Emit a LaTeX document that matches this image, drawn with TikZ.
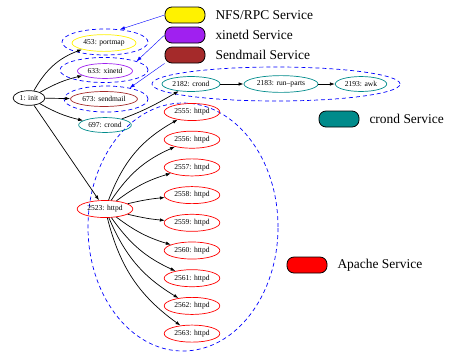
\documentclass[tikz,border=0pt]{standalone}
\usepackage{fontspec}
\setmainfont{Liberation Serif}
\usetikzlibrary{shapes.geometric,arrows.meta}
\definecolor{xpurple}{RGB}{160,32,240}
\definecolor{xbrown}{RGB}{165,42,42}
\definecolor{xcyan}{RGB}{0,139,139}
\newcommand{\procfont}{\fontsize{7.6}{8}\selectfont}
\newcommand{\keyfont}{\fontsize{13.5}{15}\selectfont}

\begin{document}
\begin{tikzpicture}[x=1bp,y=1bp]
\tikzstyle{proc}=[ellipse, draw, line width=0.7bp, inner xsep=2bp, inner ysep=2.6bp, font=\procfont]
\tikzstyle{httpd}=[proc, draw=red]
\tikzstyle{cluster}=[ellipse, draw=blue, line width=0.7bp, dash pattern=on 4bp off 3bp]
\tikzstyle{keybox}=[rounded corners=7bp, draw=black, thick, minimum width=40bp, minimum height=16bp]
\tikzstyle{keytext}=[anchor=west, font=\keyfont]
\tikzstyle{edge}=[line width=0.7bp, -{Latex[length=5bp,width=3.5bp]}]
\useasboundingbox (0,0) rectangle (453,-354);
% clusters
\node [cluster, minimum width=86bp, minimum height=26bp] (cportmap) at (105,-42) {};
\node [cluster, minimum width=88bp, minimum height=25bp] (cxinetd) at (104,-70) {};
\node [cluster, minimum width=84bp, minimum height=26bp] (csendmail) at (106,-99) {};
\node [cluster, minimum width=248bp, minimum height=34bp] (ccrond) at (276,-84) {};
\node [cluster, minimum width=190bp, minimum height=248bp] (capache) at (183,-227) {};
% processes
\node [proc] (init) at (29,-98) {1: init};
\node [proc, draw=yellow] (portmap) at (104,-43) {453: portmap};
\node [proc, draw=xpurple] (xinetd) at (105,-71) {633: xinetd};
\node [proc, draw=xbrown] (sendmail) at (104,-99) {673: sendmail};
\node [proc, draw=xcyan] (crond) at (105,-125) {697: crond};
\node [proc, draw=xcyan] (crondb) at (191,-84) {2182: crond};
\node [proc, draw=xcyan] (runparts) at (281,-84) {2183: run--parts};
\node [proc, draw=xcyan] (awk) at (361,-84) {2193: awk};
\node [httpd] (h2523) at (105,-209) {2523: httpd};
\foreach \n in {2555,...,2563}
  \node [httpd] (h\n) at (192,{-112-27.7*(\n-2555)}) {\n: httpd};
% legend
\node [keybox, fill=yellow] (lnfs) at (185,-15) {};
\node [keytext] at (212,-15) {NFS/RPC Service};
\node [keybox, fill=xpurple] (lxinetd) at (185,-35) {};
\node [keytext] at (212,-35) {xinetd Service};
\node [keybox, fill=xbrown] (lsendmail) at (185,-55) {};
\node [keytext] at (212,-55) {Sendmail Service};
\node [keybox, fill=xcyan] (lcrond) at (339,-119) {};
\node [keytext] at (366,-119) {crond Service};
\node [keybox, fill=red] (lapache) at (307,-265) {};
\node [keytext] at (334,-265) {Apache Service};
% edges
\draw [edge] (init) to[bend left=20] (portmap);
\draw [edge] (init) to[bend left=8] (xinetd);
\draw [edge] (init) -- (sendmail);
\draw [edge] (init) to[bend right=8] (crond);
\draw [edge] (init) -- (h2523);
\draw [edge] (crond) to[out=20,in=210] (crondb);
\draw [edge] (crondb) -- (runparts);
\draw [edge] (runparts) -- (awk);
\foreach \n/\a in {2555/20,2556/16,2557/10,2558/4,2559/-4,2560/-10,2561/-15,2562/-18,2563/-20}
  \draw [edge] (h2523) to[bend left=\a] (h\n);
\draw [edge, blue, thin] (lnfs.west) -- (cportmap.40);
\draw [edge, blue, thin] (lxinetd.west) -- (cxinetd.15);
\draw [edge, blue, thin] (lsendmail.south west) -- (csendmail.25);
\end{tikzpicture}
\end{document}
